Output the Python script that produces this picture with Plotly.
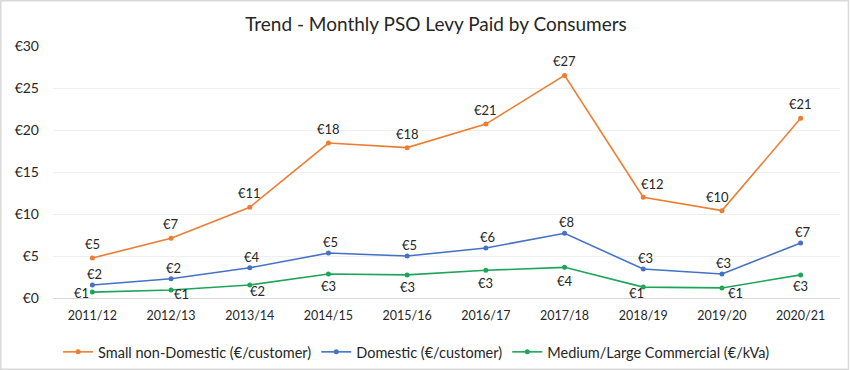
import plotly.graph_objects as go

categories = ["2011/12", "2012/13", "2013/14", "2014/15", "2015/16",
              "2016/17", "2017/18", "2018/19", "2019/20", "2020/21"]
small_non_domestic = [4.76, 7.1, 10.8, 18.45, 17.9, 20.7, 26.5, 12.0, 10.4, 21.4]
domestic = [1.55, 2.3, 3.6, 5.35, 5.0, 5.95, 7.7, 3.45, 2.85, 6.55]
medium_large = [0.7, 0.95, 1.55, 2.85, 2.75, 3.3, 3.65, 1.3, 1.2, 2.75]
y_ticks = [0, 5, 10, 15, 20, 25, 30]
y_tick_labels = ["€0", "€5", "€10", "€15", "€20", "€25", "€30"]

FONT = "Lato, Calibri, sans-serif"
TXT = "#262626"

def lab(vals):
    return ["€%d" % int(v + 0.5) for v in vals]

# label pixel offsets (dx, dy-up) per point
orange_off = [(0, 14)] * 7 + [(9, 13), (-4, 14), (0, 14)]
blue_off = [(2, 11)] * 10
green_off = [(-11, -1), (10, -4), (8, -6), (0, -12), (0, -12),
             (0, -13), (0, -14), (-7, -6), (14, -5), (0, -11)]

series = [
    ("Small non-Domestic (€/customer)", small_non_domestic, "#ED7D31", orange_off),
    ("Domestic (€/customer)", domestic, "#4472C4", blue_off),
    ("Medium/Large Commercial (€/kVa)", medium_large, "#1FA55B", green_off),
]

fig = go.Figure()
annotations = []
for name, vals, color, offs in series:
    fig.add_trace(go.Scatter(
        x=categories, y=vals, name=name, mode="lines+markers",
        line=dict(color=color, width=1.6),
        marker=dict(color=color, size=5),
        cliponaxis=False,
    ))
    for c, v, t, (dx, dy) in zip(categories, vals, lab(vals), offs):
        annotations.append(dict(x=c, y=v, xref="x", yref="y", text=t,
                                showarrow=False, xshift=dx, yshift=dy,
                                font=dict(family=FONT, size=13, color=TXT)))

fig.update_layout(
    width=850, height=370,
    margin=dict(l=53, r=10, t=46, b=72, autoexpand=False),
    paper_bgcolor="white", plot_bgcolor="white",
    font=dict(family=FONT, color=TXT),
    title=dict(text="Trend - Monthly PSO Levy Paid by Consumers",
               xref="container", yref="container",
               x=436/850, xanchor="center", y=1 - 24/370, yanchor="middle",
               font=dict(family=FONT, size=19, color=TXT), automargin=False),
    showlegend=True,
    legend=dict(orientation="h", x=0.462, xanchor="center", y=-0.214, yanchor="middle",
                font=dict(family=FONT, size=14.5, color=TXT),
                itemwidth=30, tracegroupgap=0),
    xaxis=dict(type="category", range=[-0.5, 9.5], showgrid=False,
               showline=True, linecolor="#d9d9d9", linewidth=1,
               ticks="", tickfont=dict(family=FONT, size=12.5, color=TXT),
               ticklabelstandoff=6, automargin=False, fixedrange=True),
    yaxis=dict(range=[0, 30], tickvals=y_ticks, ticktext=y_tick_labels,
               showgrid=True, gridcolor="#efefef", gridwidth=1, zeroline=False,
               tickfont=dict(family=FONT, size=14, color=TXT),
               ticks="", ticklen=0, ticklabelstandoff=13, automargin=False,
               fixedrange=True),
    annotations=annotations,
    shapes=[dict(type="rect", xref="paper", yref="paper",
                 x0=-53/787 + 0.001, x1=1 + 10/787 - 0.002,
                 y0=-72/252 + 0.003, y1=1 + 46/252 - 0.003,
                 line=dict(color="#d9d9d9", width=1.5), layer="below")],
)

fig.write_html("out.html", config={"displayModeBar": False},
               post_script="document.body.style.margin='0';")
